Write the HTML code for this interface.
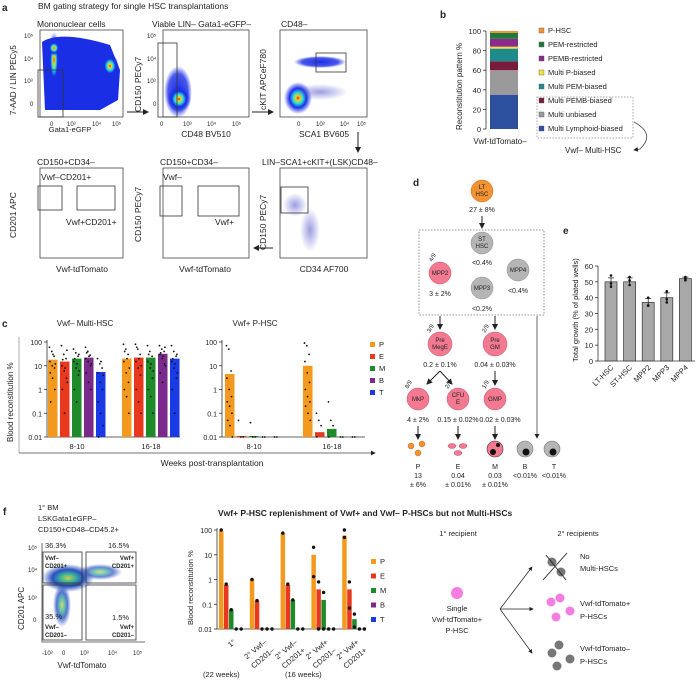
<!DOCTYPE html>
<html><head><meta charset="utf-8">
<style>
html,body{margin:0;padding:0;background:#fff;}
svg{display:block;font-family:"Liberation Sans",Arial,sans-serif;}
text{fill:#222;}
</style></head>
<body>
<svg id="fig" width="698" height="680" viewBox="0 0 698 680" xmlns="http://www.w3.org/2000/svg">
<defs>
<radialGradient id="dens" cx="50%" cy="50%" r="50%">
<stop offset="0" stop-color="#e8201a"/><stop offset="0.15" stop-color="#f5d21a"/><stop offset="0.35" stop-color="#27e0e0"/><stop offset="0.6" stop-color="#1a2ee6"/><stop offset="1" stop-color="#1a2ee6" stop-opacity="0"/>
</radialGradient>
<radialGradient id="blue" cx="50%" cy="50%" r="50%">
<stop offset="0" stop-color="#1a2ee6"/><stop offset="0.7" stop-color="#1a2ee6" stop-opacity="0.8"/><stop offset="1" stop-color="#1a2ee6" stop-opacity="0"/>
</radialGradient>
<radialGradient id="sparse" cx="50%" cy="50%" r="50%">
<stop offset="0" stop-color="#5a5ad0" stop-opacity="0.6"/><stop offset="1" stop-color="#5a5ad0" stop-opacity="0"/>
</radialGradient>
<radialGradient id="fdens" cx="50%" cy="50%" r="50%">
<stop offset="0" stop-color="#c8d040"/><stop offset="0.3" stop-color="#3ab0a0"/><stop offset="0.6" stop-color="#2a50c0"/><stop offset="1" stop-color="#2a50c0" stop-opacity="0"/>
</radialGradient>
<marker id="arr" markerWidth="6" markerHeight="6" refX="5" refY="3" orient="auto"><path d="M0,0 L6,3 L0,6 z" fill="#222"/></marker>
</defs>

<!-- Panel a -->
<g font-size="8.5">
<text x="2" y="11" font-weight="bold" font-size="10">a</text>
<text x="38" y="9">BM gating strategy for single HSC transplantations</text>
<g>
<text x="37" y="27">Mononuclear cells</text>
<rect x="40" y="30" width="83" height="87" fill="#fff" stroke="#444" stroke-width="0.8"/>
<path d="M42,42 Q60,30 110,45 L120,70 L118,100 L100,110 L45,110 Z" fill="#1a2ee6"/>
<ellipse cx="54" cy="60" rx="6" ry="28" fill="url(#dens)"/>
<ellipse cx="54" cy="48" rx="7" ry="8" fill="url(#dens)"/>
<ellipse cx="110" cy="66" rx="9" ry="12" fill="url(#dens)"/>
<rect x="38" y="70" width="25" height="47" fill="none" stroke="#333" stroke-width="0.8"/>
<text x="70" y="132" text-anchor="middle" font-size="7.5">Gata1-eGFP</text>
<text transform="translate(16,115) rotate(-90)" font-size="8">7-AAD / LIN PECy5</text>
<text x="24" y="38" font-size="6">10⁵</text><text x="24" y="61" font-size="6">10⁴</text><text x="24" y="83" font-size="6">10³</text><text x="30" y="106" font-size="6">0</text>
<text x="50" y="126" font-size="6">0</text><text x="67" y="126" font-size="6">10³</text><text x="92" y="126" font-size="6">10⁴</text><text x="112" y="126" font-size="6">10⁵</text>
</g>
<line x1="127" y1="112" x2="148" y2="112" stroke="#222" marker-end="url(#arr)"/>
<g>
<text x="152" y="27">Viable LIN– Gata1-eGFP–</text>
<rect x="163" y="30" width="86" height="87" fill="#fff" stroke="#444" stroke-width="0.8"/>
<ellipse cx="178" cy="92" rx="14" ry="26" fill="url(#blue)"/>
<ellipse cx="179" cy="99" rx="12" ry="13" fill="url(#dens)"/>
<rect x="158" y="43" width="19" height="74" fill="none" stroke="#333" stroke-width="0.8"/>
<text x="206" y="137" text-anchor="middle">CD48 BV510</text>
<text transform="translate(141,112) rotate(-90)">CD150 PECy7</text>
<text x="147" y="38" font-size="6">10⁵</text><text x="147" y="61" font-size="6">10⁴</text><text x="147" y="83" font-size="6">10³</text><text x="153" y="106" font-size="6">0</text>
<text x="160" y="126" font-size="6">0</text><text x="183" y="126" font-size="6">10³</text><text x="207" y="126" font-size="6">10⁴</text><text x="232" y="126" font-size="6">10⁵</text>
</g>
<line x1="252" y1="112" x2="273" y2="112" stroke="#222" marker-end="url(#arr)"/>
<g>
<text x="281" y="27">CD48–</text>
<rect x="280" y="30" width="87" height="87" fill="#fff" stroke="#444" stroke-width="0.8"/>
<ellipse cx="298" cy="98" rx="14" ry="16" fill="url(#dens)"/>
<ellipse cx="320" cy="62" rx="26" ry="6" fill="url(#blue)"/>
<ellipse cx="320" cy="92" rx="28" ry="8" fill="url(#sparse)"/>
<rect x="316" y="53" width="30" height="19" fill="none" stroke="#333" stroke-width="0.8"/>
<text x="324" y="137" text-anchor="middle">SCA1 BV605</text>
<text transform="translate(266,110) rotate(-90)">cKIT APCeF780</text>
<text x="297" y="126" font-size="6">0</text><text x="316" y="126" font-size="6">10³</text><text x="340" y="126" font-size="6">10⁴</text><text x="357" y="126" font-size="6">10⁵</text>
</g>
<line x1="358" y1="132" x2="358" y2="152" stroke="#222" marker-end="url(#arr)"/>
<g>
<text x="37" y="165">CD150+CD34–</text>
<rect x="40" y="168" width="83" height="90" fill="#fff" stroke="#444" stroke-width="0.8"/>
<rect x="38" y="186" width="24" height="24" fill="none" stroke="#333" stroke-width="0.8"/>
<rect x="77" y="186" width="38" height="24" fill="none" stroke="#333" stroke-width="0.8"/>
<text x="41" y="180">Vwf–CD201+</text>
<text x="66" y="225">Vwf+CD201+</text>
<text transform="translate(16,238) rotate(-90)">CD201 APC</text>
</g>
<g>
<text x="160" y="165">CD150+CD34–</text>
<rect x="163" y="168" width="86" height="90" fill="#fff" stroke="#444" stroke-width="0.8"/>
<rect x="160" y="186" width="22" height="30" fill="none" stroke="#333" stroke-width="0.8"/>
<rect x="198" y="186" width="41" height="30" fill="none" stroke="#333" stroke-width="0.8"/>
<text x="163" y="180">Vwf–</text><text x="215" y="225">Vwf+</text>
<text transform="translate(141,242) rotate(-90)">CD150 PECy7</text>
</g>
<line x1="273" y1="248" x2="254" y2="248" stroke="#222" marker-end="url(#arr)"/>
<g>
<text x="262" y="165">LIN–SCA1+cKIT+(LSK)CD48–</text>
<rect x="280" y="168" width="87" height="90" fill="#fff" stroke="#444" stroke-width="0.8"/>
<ellipse cx="310" cy="230" rx="10" ry="22" fill="url(#sparse)"/>
<ellipse cx="295" cy="205" rx="12" ry="12" fill="url(#sparse)"/>
<rect x="281" y="187" width="27" height="26" fill="none" stroke="#333" stroke-width="0.8"/>
<text x="324" y="272" text-anchor="middle">CD34 AF700</text>
<text transform="translate(266,250) rotate(-90)">CD150 PECy7</text>
</g>
<text x="82" y="272" text-anchor="middle">Vwf-tdTomato</text>
<text x="205" y="272" text-anchor="middle">Vwf-tdTomato</text>
</g>

<!-- Panel b -->
<g id="panelB" font-size="8">
<text x="440" y="18" font-weight="bold" font-size="10">b</text>
<text transform="translate(462,130) rotate(-90)" font-size="8">Reconstitution pattern %</text>
<text x="500" y="144" text-anchor="middle">Vwf-tdTomato–</text>
<rect x="537" y="97" width="96" height="41" fill="none" stroke="#888" stroke-dasharray="1.5,1.5" stroke-width="0.7"/>
<path d="M634,122 Q656,134 640,149 L634,150" fill="none" stroke="#444" stroke-width="0.8" marker-end="url(#arr)"/>
<text x="565" y="153">Vwf– Multi-HSC</text>
</g>

<!-- Panel c -->
<g id="panelC" font-size="8">
<text x="2" y="327" font-weight="bold" font-size="10">c</text>
<text x="85" y="326" text-anchor="middle">Vwf– Multi-HSC</text>
<text x="255" y="326" text-anchor="middle">Vwf+ P-HSC</text>
<line x1="19" y1="337" x2="19" y2="453" stroke="#999" stroke-width="0.8"/>
<line x1="19" y1="453" x2="375" y2="453" stroke="#444" stroke-width="0.8" marker-end="url(#arr)"/>
<text x="212" y="466" text-anchor="middle" font-size="8.5">Weeks post-transplantation</text>
<text transform="translate(13,442) rotate(-90)" font-size="8">Blood reconstitution %</text>
</g>

<!-- Panel d -->
<g font-size="7">
<text x="413" y="186" font-weight="bold" font-size="10">d</text>
<circle cx="482" cy="191" r="11" fill="#f39233" stroke="#c06a1c" stroke-width="0.5"/>
<text x="482" y="189" text-anchor="middle" font-size="6">LT</text><text x="482" y="196" text-anchor="middle" font-size="6">HSC</text>
<text x="482" y="212" text-anchor="middle">27 ± 8%</text>
<line x1="482" y1="216" x2="482" y2="228" stroke="#222" marker-end="url(#arr)"/>
<rect x="419" y="230" width="125" height="85" fill="none" stroke="#777" stroke-dasharray="1.5,1.5" stroke-width="0.8"/>
<circle cx="482" cy="243" r="11" fill="#b5b5b5" stroke="#888" stroke-width="0.5"/>
<text x="482" y="241" text-anchor="middle" font-size="6">ST</text><text x="482" y="248" text-anchor="middle" font-size="6">HSC</text>
<text x="482" y="265" text-anchor="middle">&lt;0.4%</text>
<circle cx="440" cy="273" r="11" fill="#f2798f" stroke="#c0506a" stroke-width="0.5"/>
<text x="440" y="275" text-anchor="middle" font-size="6">MPP2</text>
<text transform="translate(432,262) rotate(-60)" font-size="6">4/9</text>
<text x="440" y="296" text-anchor="middle">3 ± 2%</text>
<circle cx="482" cy="288" r="11" fill="#b5b5b5" stroke="#888" stroke-width="0.5"/>
<text x="482" y="290" text-anchor="middle" font-size="6">MPP3</text>
<text x="482" y="311" text-anchor="middle">&lt;0.2%</text>
<circle cx="518" cy="270" r="11" fill="#b5b5b5" stroke="#888" stroke-width="0.5"/>
<text x="518" y="272" text-anchor="middle" font-size="6">MPP4</text>
<text x="518" y="293" text-anchor="middle">&lt;0.4%</text>
<line x1="440" y1="316" x2="440" y2="329" stroke="#222" marker-end="url(#arr)"/>
<line x1="495" y1="316" x2="495" y2="329" stroke="#222" marker-end="url(#arr)"/>
<line x1="537" y1="316" x2="537" y2="438" stroke="#444" stroke-width="0.8" marker-end="url(#arr)"/>
<circle cx="440" cy="344" r="12" fill="#f2798f" stroke="#c0506a" stroke-width="0.5"/>
<text x="440" y="342" text-anchor="middle" font-size="6">Pre</text><text x="440" y="349" text-anchor="middle" font-size="6">MegE</text>
<text transform="translate(430,333) rotate(-60)" font-size="6">3/9</text>
<circle cx="495" cy="344" r="12" fill="#f2798f" stroke="#c0506a" stroke-width="0.5"/>
<text x="495" y="342" text-anchor="middle" font-size="6">Pre</text><text x="495" y="349" text-anchor="middle" font-size="6">GM</text>
<text transform="translate(485,333) rotate(-60)" font-size="6">2/9</text>
<text x="440" y="367" text-anchor="middle">0.2 ± 0.1%</text>
<text x="495" y="367" text-anchor="middle">0.04 ± 0.03%</text>
<line x1="440" y1="371" x2="427" y2="384" stroke="#222" marker-end="url(#arr)"/>
<line x1="440" y1="371" x2="452" y2="384" stroke="#222" marker-end="url(#arr)"/>
<line x1="495" y1="371" x2="495" y2="385" stroke="#222" marker-end="url(#arr)"/>
<circle cx="418" cy="399" r="11" fill="#f2798f" stroke="#c0506a" stroke-width="0.5"/>
<text x="418" y="401" text-anchor="middle" font-size="6">MkP</text>
<text transform="translate(408,389) rotate(-60)" font-size="6">8/9</text>
<circle cx="458" cy="399" r="11" fill="#f2798f" stroke="#c0506a" stroke-width="0.5"/>
<text x="458" y="397" text-anchor="middle" font-size="6">CFU</text><text x="458" y="404" text-anchor="middle" font-size="6">E</text>
<text transform="translate(448,389) rotate(-60)" font-size="6">2/9</text>
<circle cx="495" cy="399" r="11" fill="#f2798f" stroke="#c0506a" stroke-width="0.5"/>
<text x="495" y="401" text-anchor="middle" font-size="6">GMP</text>
<text transform="translate(485,389) rotate(-60)" font-size="6">1/9</text>
<text x="418" y="422" text-anchor="middle">4 ± 2%</text>
<text x="458" y="422" text-anchor="middle">0.15 ± 0.02%</text>
<text x="500" y="422" text-anchor="middle">0.02 ± 0.03%</text>
<line x1="418" y1="426" x2="418" y2="439" stroke="#222" marker-end="url(#arr)"/>
<line x1="458" y1="426" x2="458" y2="439" stroke="#222" marker-end="url(#arr)"/>
<line x1="495" y1="426" x2="495" y2="439" stroke="#222" marker-end="url(#arr)"/>
<g fill="#f39233" stroke="#a55a10" stroke-width="0.4"><circle cx="411" cy="446" r="3"/><circle cx="422" cy="444" r="3"/><circle cx="418" cy="453" r="3"/></g>
<g fill="#f2798f" stroke="#a04060" stroke-width="0.4"><ellipse cx="452" cy="446" rx="4" ry="2.5"/><ellipse cx="463" cy="446" rx="4" ry="2.5"/><ellipse cx="458" cy="453" rx="4" ry="2.5"/></g>
<circle cx="495" cy="449" r="8" fill="#f2798f" stroke="#333" stroke-width="0.6"/>
<circle cx="493" cy="452" r="3" fill="#111"/><circle cx="498" cy="445" r="2" fill="#111"/>
<circle cx="525" cy="449" r="8" fill="#b5b5b5" stroke="#777" stroke-width="0.6"/><circle cx="526" cy="452" r="3.5" fill="#111"/>
<circle cx="552" cy="449" r="8" fill="#b5b5b5" stroke="#777" stroke-width="0.6"/><circle cx="553" cy="452" r="3.5" fill="#111"/>
<text x="418" y="469" text-anchor="middle">P</text><text x="418" y="478" text-anchor="middle">13</text><text x="418" y="487" text-anchor="middle">± 6%</text>
<text x="458" y="469" text-anchor="middle">E</text><text x="458" y="478" text-anchor="middle">0.04</text><text x="458" y="487" text-anchor="middle">± 0.01%</text>
<text x="495" y="469" text-anchor="middle">M</text><text x="495" y="478" text-anchor="middle">0.03</text><text x="495" y="487" text-anchor="middle">± 0.01%</text>
<text x="525" y="469" text-anchor="middle">B</text><text x="525" y="478" text-anchor="middle">&lt;0.01%</text>
<text x="554" y="469" text-anchor="middle">T</text><text x="554" y="478" text-anchor="middle">&lt;0.01%</text>
</g>

<!-- Panel e -->
<g id="panelE" font-size="8">
<text x="563" y="234" font-weight="bold" font-size="10">e</text>
<text transform="translate(578,362) rotate(-90)" font-size="7.5">Total growth (% of plated wells)</text>
</g>

<!-- Panel f -->
<g font-size="7.5">
<text x="3" y="515" font-weight="bold" font-size="10">f</text>
<text x="38" y="510">1° BM</text>
<text x="38" y="521">LSKGata1eGFP–</text>
<text x="38" y="532">CD150+CD48–CD45.2+</text>
<g>
<polyline points="42,543 42,642 145,642" fill="none" stroke="#444" stroke-width="0.8"/>
<ellipse cx="68" cy="578" rx="26" ry="14" fill="url(#fdens)"/>
<ellipse cx="62" cy="605" rx="9" ry="22" fill="url(#fdens)" opacity="0.8"/>
<ellipse cx="100" cy="572" rx="22" ry="8" fill="url(#fdens)" opacity="0.7"/>
<rect x="43" y="552" width="39" height="31" fill="none" stroke="#333" stroke-width="0.8"/>
<rect x="86" y="552" width="50" height="31" fill="none" stroke="#333" stroke-width="0.8"/>
<rect x="43" y="585" width="39" height="55" fill="none" stroke="#333" stroke-width="0.8"/>
<rect x="86" y="585" width="50" height="55" fill="none" stroke="#333" stroke-width="0.8"/>
<text x="45" y="548">36.3%</text><text x="108" y="548">16.5%</text>
<text x="45" y="619">35.%</text><text x="112" y="620">1.5%</text>
<text x="45" y="560" font-size="6" font-weight="bold">Vwf–</text><text x="45" y="568" font-size="6" font-weight="bold">CD201+</text>
<text x="134" y="560" font-size="6" font-weight="bold" text-anchor="end">Vwf+</text><text x="134" y="568" font-size="6" font-weight="bold" text-anchor="end">CD201+</text>
<text x="45" y="629" font-size="6" font-weight="bold">Vwf–</text><text x="45" y="637" font-size="6" font-weight="bold">CD201–</text>
<text x="134" y="629" font-size="6" font-weight="bold" text-anchor="end">Vwf+</text><text x="134" y="637" font-size="6" font-weight="bold" text-anchor="end">CD201–</text>
<text x="28" y="550" font-size="6">10⁵</text><text x="28" y="572" font-size="6">10⁴</text><text x="28" y="600" font-size="6">10³</text><text x="33" y="622" font-size="6">0</text>
<text x="42" y="655" font-size="6">-10³</text><text x="62" y="655" font-size="6">0</text><text x="80" y="655" font-size="6">10³</text><text x="108" y="655" font-size="6">10⁴</text><text x="133" y="655" font-size="6">10⁵</text>
<text transform="translate(24,630) rotate(-90)" font-size="8">CD201 APC</text>
<text x="82" y="668" text-anchor="middle" font-size="8">Vwf-tdTomato</text>
</g>
<text x="218" y="516" font-weight="bold" font-size="8.5">Vwf+ P-HSC replenishment of Vwf+ and Vwf– P-HSCs but not Multi-HSCs</text>
<text transform="translate(193,625) rotate(-90)" font-size="7.5">Blood reconstitution %</text>
<text x="203" y="677">(22 weeks)</text><text x="285" y="677">(16 weeks)</text>
<text x="458" y="536" text-anchor="middle">1° recipient</text>
<text x="578" y="536" text-anchor="middle">2° recipients</text>
<circle cx="457" cy="593" r="6" fill="#f47ee0"/>
<text x="457" y="611" text-anchor="middle">Single</text>
<text x="457" y="622" text-anchor="middle">Vwf-tdTomato+</text>
<text x="457" y="633" text-anchor="middle">P-HSC</text>
<line x1="500" y1="609" x2="532" y2="567" stroke="#222" stroke-width="0.7" marker-end="url(#arr)"/>
<line x1="500" y1="609" x2="533" y2="609" stroke="#222" stroke-width="0.7" marker-end="url(#arr)"/>
<line x1="500" y1="609" x2="532" y2="653" stroke="#222" stroke-width="0.7" marker-end="url(#arr)"/>
<g fill="#777"><circle cx="552" cy="562" r="4.5"/><circle cx="561" cy="572" r="4.5"/></g>
<line x1="543" y1="580" x2="567" y2="553" stroke="#222" stroke-width="0.9"/>
<line x1="546" y1="555" x2="566" y2="580" stroke="#222" stroke-width="0.9"/>
<text x="580" y="559">No</text><text x="580" y="571">Multi-HSCs</text>
<g fill="#f47ee0"><circle cx="551" cy="602" r="4.5"/><circle cx="560" cy="598" r="4.5"/><circle cx="570" cy="611" r="4.5"/><circle cx="556" cy="617" r="4.5"/></g>
<text x="580" y="606">Vwf-tdTomato+</text><text x="580" y="619">P-HSCs</text>
<g fill="#777"><circle cx="552" cy="653" r="4.5"/><circle cx="559" cy="645" r="4.5"/><circle cx="570" cy="659" r="4.5"/><circle cx="557" cy="666" r="4.5"/></g>
<text x="580" y="651">Vwf-tdTomato–</text><text x="580" y="664">P-HSCs</text>
</g>
<g id="panelF" font-size="7.5"></g>
</svg>
<script>
// ---------- data ----------
const bSegments = ["Multi Lymphoid-biased","Multi unbiased","Multi PEMB-biased","Multi PEM-biased","Multi P-biased","PEMB-restricted","PEM-restricted","P-HSC"];
const bValues = [35, 25, 9, 13, 2, 8, 6, 2];
const bColors = ["#2c4f9e","#9a9a9a","#7a1a3c","#1f8a8c","#f0e23a","#8a2a8a","#1e7a3c","#f39233"];
const bTicks = [0,20,40,60,80,100];

const lineages = ["P","E","M","B","T"];
const linColors = ["#f39a1e","#e8381e","#1f8a2a","#7a2a8a","#1a3ae6"];
const cGroups = ["8-10","16-18"];
const cMultiMeans = [[18,15,20,22,5.5],[20,22,22,32,20]];
const cPhscMeans = [[4.5,0.011,0.011,0.01,0.01],[10,0.016,0.022,0.01,0.01]];
const cMultiDots = [
 [[60,40,25,15,10,8,5,3,1,0.3,30,12],[70,30,20,10,6,3,1,0.1,45,18,8,2],[50,35,25,15,8,4,1,0.3,30,20,12,6],[60,40,28,20,15,10,5,2,1,35,25,12],[20,12,8,5,2,1,0.3,0.1,0.03,0.01,15,4]],
 [[80,50,30,15,5,2,1,0.5,0.1,40,20,8],[80,50,30,15,8,4,1,0.3,0.1,60,20,10],[70,40,25,15,8,3,1,0.5,0.1,30,12,6],[70,50,40,30,20,12,5,2,60,35,25,10],[70,40,25,15,8,3,1,0.1,30,20,12,5]]
];
const cPhscDots = [
 [[70,50,6,3,1,0.5,0.3,0.2,0.1,0.05,0.03,0.01],[0.05,0.01,0.01],[0.04,0.01,0.01],[0.01,0.01],[0.01,0.01]],
 [[90,70,30,15,5,2,1,0.5,0.3,0.2,0.1,0.05],[0.1,0.05,0.03,0.01],[0.3,0.05,0.03,0.01],[0.01,0.01],[0.01,0.01]]
];
const logTicks = [0.01,0.1,1,10,100];
const logTickLabels = ["0.01","0.1","1","10","100"];

const eCats = ["LT-HSC","ST-HSC","MPP2","MPP3","MPP4"];
const eValues = [50, 50, 37, 40, 52];
const eErr = [2.5, 2.5, 2.5, 3, 1];
const eDots = [[54,49,47],[53,51,48],[40,35,35],[44,39,37],[53,52,51]];
const eTicks = [0,10,20,30,40,50,60];

const fCats = ["1°","2° Vwf– CD201–","2° Vwf– CD201+","2° Vwf+ CD201–","2° Vwf+ CD201+"];
const fValues = [[90,0.6,0.06,0.01,0.01],[1,0.14,0.01,0.01,0.01],[75,0.6,0.15,0.01,0.01],[10,0.4,0.15,0.01,0.01],[60,0.4,0.025,0.01,0.01]];
const fDots = [[[100],[0.65],[0.06],[0.01],[0.01]],[[1],[0.14],[0.01],[0.01],[0.01]],[[75],[0.65],[0.15],[0.01],[0.01]],[[20,1.3],[0.8,0.01],[0.3,0.01],[0.01],[0.01]],[[100,50],[0.8,0.07],[0.04,0.012],[0.01],[0.01]]];

const NS="http://www.w3.org/2000/svg";
function mk(parent,tag,attrs,txt){const e=document.createElementNS(NS,tag);for(const k in attrs)e.setAttribute(k,attrs[k]);if(txt!==undefined)e.textContent=txt;parent.appendChild(e);return e;}

// ---------- panel b ----------
(function(){
 const g=document.getElementById('panelB');
 const y=v=>129-v*0.98;
 mk(g,'line',{x1:486,y1:31,x2:486,y2:129,stroke:'#333','stroke-width':0.8});
 bTicks.forEach(t=>{mk(g,'line',{x1:483,y1:y(t),x2:486,y2:y(t),stroke:'#333','stroke-width':0.8});
  const tx=mk(g,'text',{x:481,y:y(t)+3,'text-anchor':'end','font-size':7.5},t);
  });
 let acc=0;
 bValues.forEach((v,i)=>{const r=mk(g,'rect',{x:490,y:y(acc+v),width:28,height:y(acc)-y(acc+v),fill:bColors[i]});
  acc+=v;});
 for(let i=0;i<bSegments.length;i++){
  const idx=bSegments.length-1-i, yy=33+i*14;
  const s=mk(g,'rect',{x:539,y:yy-5,width:5,height:5,fill:bColors[idx],stroke:'#555','stroke-width':0.4});
  
  const t=mk(g,'text',{x:548,y:yy,'font-size':7.5},bSegments[idx]);
  
 }
})();

// ---------- panel c ----------
(function(){
 const g=document.getElementById('panelC');
 const y=v=>437-(Math.log10(v)+2)/4*95;
 function chart(ax,xEnd,groupX,means,dots){
  mk(g,'line',{x1:ax,y1:340,x2:ax,y2:437,stroke:'#333','stroke-width':0.8});
  mk(g,'line',{x1:ax,y1:437,x2:xEnd,y2:437,stroke:'#333','stroke-width':0.8});
  logTicks.forEach((t,i)=>{mk(g,'line',{x1:ax-3,y1:y(t),x2:ax,y2:y(t),stroke:'#333','stroke-width':0.8});
   const tx=mk(g,'text',{x:ax-5,y:y(t)+3,'text-anchor':'end','font-size':7},logTickLabels[i]);
   });
  means.forEach((grp,gi)=>{
   grp.forEach((v,li)=>{
    const x=groupX[gi]+li*12;
    const r=mk(g,'rect',{x:x,y:y(v),width:9.5,height:437-y(v),fill:linColors[li]});
    
    dots[gi][li].forEach((d,k)=>{const c=mk(g,'circle',{cx:x+1.5+(k*2.3)%6.5,cy:y(d),r:0.9,fill:'#111'});
     });
   });
   const lbl=mk(g,'text',{x:groupX[gi]+29,y:449,'text-anchor':'middle','font-size':7.5},cGroups[gi]);
   
  });
 }
 chart(47,180,[48,122],cMultiMeans,cMultiDots);
 chart(222,365,[225,303],cPhscMeans,cPhscDots);
 lineages.forEach((l,i)=>{const s=mk(g,'rect',{x:370,y:342+i*12,width:5,height:5,fill:linColors[i]});
  
  const t=mk(g,'text',{x:379,y:347+i*12,'font-size':7.5},l);
  });
})();

// ---------- panel e ----------
(function(){
 const g=document.getElementById('panelE');
 const y=v=>361-v*95/60;
 mk(g,'line',{x1:598,y1:266,x2:598,y2:361,stroke:'#333','stroke-width':0.8});
 mk(g,'line',{x1:598,y1:361,x2:695,y2:361,stroke:'#333','stroke-width':0.8});
 eTicks.forEach(t=>{mk(g,'line',{x1:595,y1:y(t),x2:598,y2:y(t),stroke:'#333','stroke-width':0.8});
  const tx=mk(g,'text',{x:593,y:y(t)+3,'text-anchor':'end','font-size':7.5},t);
  });
 eCats.forEach((c,i)=>{
  const x=605+i*18.6;
  const r=mk(g,'rect',{x:x,y:y(eValues[i]),width:12,height:361-y(eValues[i]),fill:'#a8a8a8',stroke:'#333','stroke-width':0.7});
  
  mk(g,'line',{x1:x+6,y1:y(eValues[i]+eErr[i]),x2:x+6,y2:y(eValues[i]-eErr[i]),stroke:'#111','stroke-width':0.7});
  mk(g,'line',{x1:x+3,y1:y(eValues[i]+eErr[i]),x2:x+9,y2:y(eValues[i]+eErr[i]),stroke:'#111','stroke-width':0.7});
  eDots[i].forEach(d=>{const c2=mk(g,'circle',{cx:x+6,cy:y(d),r:1.3,fill:'#111'});
   });
  const t=mk(g,'text',{transform:`translate(${x+9},${368}) rotate(-45)`,'text-anchor':'end','font-size':7.5},c);
  
 });
})();

// ---------- panel f chart ----------
(function(){
 const g=document.getElementById('panelF');
 const y=v=>629-(Math.log10(v)+2)/4*99;
 mk(g,'line',{x1:217,y1:528,x2:217,y2:629,stroke:'#333','stroke-width':0.8});
 mk(g,'line',{x1:217,y1:629,x2:365,y2:629,stroke:'#333','stroke-width':0.8});
 logTicks.forEach((t,i)=>{mk(g,'line',{x1:214,y1:y(t),x2:217,y2:y(t),stroke:'#333','stroke-width':0.8});
  const tx=mk(g,'text',{x:212,y:y(t)+3,'text-anchor':'end','font-size':7},logTickLabels[i]);
  });
 fCats.forEach((c,gi)=>{
  const gx=219+gi*30.8;
  fValues[gi].forEach((v,li)=>{
   const x=gx+li*5;
   const r=mk(g,'rect',{x:x,y:y(v),width:4.5,height:629-y(v),fill:linColors[li]});
   
   fDots[gi][li].forEach(d=>{const cc=mk(g,'circle',{cx:x+2.2,cy:y(d),r:1.7,fill:'#111'});
    });
  });
  const parts=c.split(' ');
  const line1=parts.slice(0,2).join(' '), line2=parts.slice(2).join(' ');
  const t=mk(g,'text',{transform:`translate(${gx+17},${643}) rotate(-40)`,'text-anchor':'end','font-size':7.5},line1);
  
  if(line2){const t2=mk(g,'text',{transform:`translate(${gx+25},${651}) rotate(-40)`,'text-anchor':'end','font-size':7.5},line2);
   }
 });
 lineages.forEach((l,i)=>{const s=mk(g,'rect',{x:371,y:559+i*14.5,width:5,height:5,fill:linColors[i]});
  
  const t=mk(g,'text',{x:380,y:564+i*14.5,'font-size':7.5},l);
  });
})();
</script>
</body></html>
